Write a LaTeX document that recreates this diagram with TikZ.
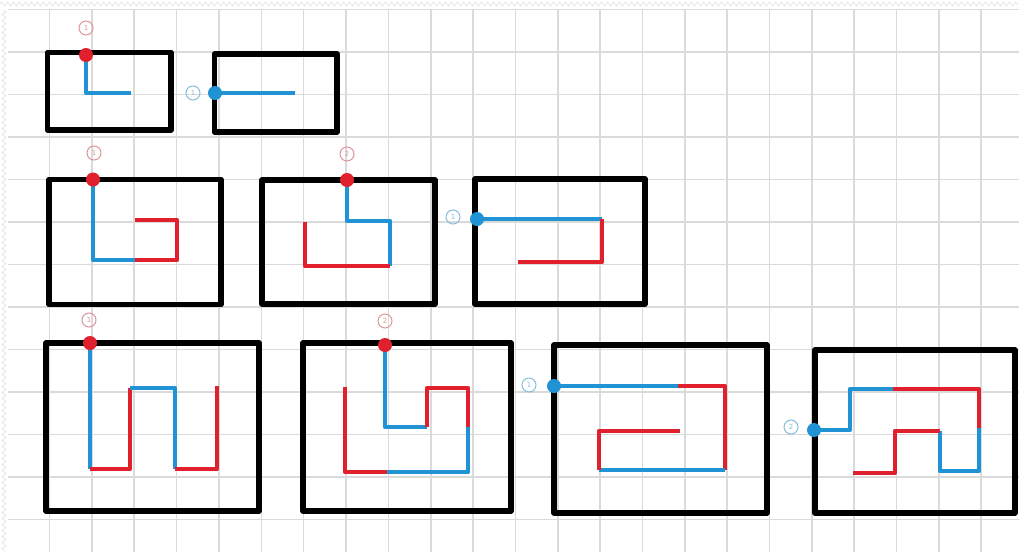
\documentclass[tikz,border=0pt]{standalone}
\usepackage{fontspec}
\setmainfont{DejaVu Sans}
\usetikzlibrary{decorations.pathmorphing}
\definecolor{pred}{HTML}{E0202C}
\definecolor{pblue}{HTML}{1F93D3}
\definecolor{gridc}{HTML}{DADADA}
\definecolor{edgec}{HTML}{E6E6E6}
\definecolor{lred}{HTML}{E0959C}
\definecolor{lblue}{HTML}{86BEDC}
\tikzset{
  frame/.style={line width=5.5pt, line join=round, black},
  rp/.style={pred, line width=4.8pt, line join=round},
  bp/.style={pblue, line width=4.8pt, line join=round},
  rdot/.style={circle, fill=pred, minimum size=14pt, inner sep=0pt},
  bdot/.style={circle, fill=pblue, minimum size=14pt, inner sep=0pt},
  lab/.style={circle, draw, line width=1pt, minimum size=14pt, inner sep=0pt, font=\fontsize{7}{7}\selectfont},
  rlab/.style={lab, draw=lred, text=lred},
  blab/.style={lab, draw=lblue, text=lblue},
  gridline/.style={gridc, line width=1.6pt}
}
\begin{document}
\begin{tikzpicture}[x=1pt, y=-1pt]
\useasboundingbox (0,0) rectangle (1019,552);
\fill[white] (0,0) rectangle (1019,552);
% grid
\foreach \i in {1,...,24} { \draw[gridline] ({7.2+42.35*\i},10) -- ({7.2+42.35*\i},552); }
\foreach \j in {0,...,12} { \draw[gridline] (8,{9.3+42.5*\j}) -- (1019,{9.3+42.5*\j}); }
\draw[edgec, line width=0.8pt, decorate, decoration={zigzag, segment length=6pt, amplitude=2pt}] (0,4) -- (1019,4);
\draw[edgec, line width=0.8pt, decorate, decoration={zigzag, segment length=6pt, amplitude=2pt}] (4,10) -- (4,552);

% ---------- Row 1 ----------
\draw[frame] (47.5,52.5) rectangle (171,130);
\draw[bp] (86,56) -- (86,93) -- (131,93);
\node[rdot] (a1) at (86,55) {};
\node[rlab] (la1) at (86,28) {1};

\draw[frame] (214.5,54) rectangle (337,132);
\draw[bp] (215,93) -- (295,93);
\node[bdot] (b1) at (215,93) {};
\node[blab] (lb1) at (193,93) {1};

% ---------- Row 2 ----------
\draw[frame] (49,179.5) rectangle (221,304.5);
\draw[bp] (93,180) -- (93,260) -- (135,260);
\draw[rp] (135,260) -- (177,260) -- (177,220) -- (135,220);
\node[rdot] (c1) at (93,179.5) {};
\node[rlab] (lc1) at (94,153) {1};

\draw[frame] (262,180) rectangle (435,304);
\draw[bp] (347,180) -- (347,221) -- (390,221) -- (390,266);
\draw[rp] (390,266) -- (305,266) -- (305,222);
\node[rdot] (d1) at (347,180) {};
\node[rlab] (ld1) at (347,154) {2};

\draw[frame] (475,179) rectangle (645,304);
\draw[bp] (477,219) -- (602,219);
\draw[rp] (602,219) -- (602,262) -- (518,262);
\node[bdot] (e1) at (477,219) {};
\node[blab] (le1) at (453,217) {1};

% ---------- Row 3 ----------
\draw[frame] (46,343) rectangle (259,511);
\draw[bp] (90,343) -- (90,469);
\draw[rp] (90,469) -- (130,469) -- (130,388);
\draw[bp] (130,388) -- (175,388) -- (175,469);
\draw[rp] (175,469) -- (217,469) -- (217,386);
\node[rdot] (f1) at (90,343) {};
\node[rlab] (lf1) at (89,320) {1};

\draw[frame] (303,343) rectangle (511,511);
\draw[bp] (385,345) -- (385,427) -- (427,427);
\draw[rp] (427,427) -- (427,388) -- (468,388) -- (468,427);
\draw[bp] (468,427) -- (468,472) -- (387,472);
\draw[rp] (387,472) -- (345,472) -- (345,387);
\node[rdot] (g1) at (385,345) {};
\node[rlab] (lg1) at (385,321) {2};

\draw[frame] (554,345) rectangle (767,513);
\draw[bp] (554,386) -- (678,386);
\draw[rp] (678,386) -- (725,386) -- (725,470);
\draw[bp] (725,470) -- (599,470);
\draw[rp] (599,470) -- (599,431) -- (680,431);
\node[bdot] (h1) at (554,386) {};
\node[blab] (lh1) at (529,385) {1};

\draw[frame] (815,350) rectangle (1015,513);
\draw[bp] (814,430) -- (850,430) -- (850,389) -- (893,389);
\draw[rp] (893,389) -- (979,389) -- (979,428);
\draw[bp] (979,428) -- (979,471) -- (940,471) -- (940,431);
\draw[rp] (940,431) -- (895,431) -- (895,473) -- (853,473);
\node[bdot] (i1) at (814,430) {};
\node[blab] (li1) at (791,427) {2};
\end{tikzpicture}
\end{document}
